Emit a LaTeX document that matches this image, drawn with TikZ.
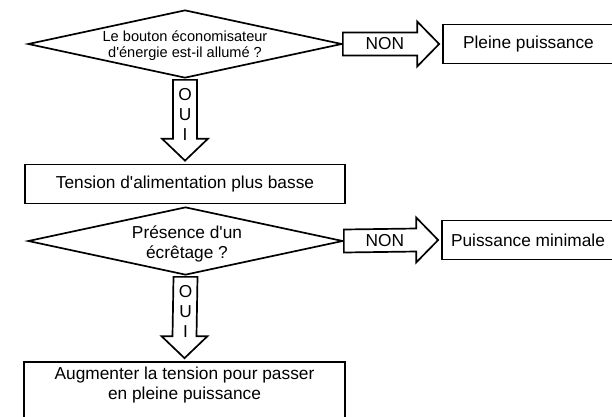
\documentclass[tikz,border=0pt]{standalone}
\usepackage{fontspec}
\setmainfont{Liberation Sans}
\usetikzlibrary{positioning,calc,shapes.geometric}
\tikzset{
  q/.style={diamond, draw, line width=1.7pt, inner sep=0pt, minimum width=314pt, minimum height=68pt},
  box/.style={rectangle, draw, line width=1.7pt, inner sep=0pt, minimum height=39pt, align=center},
  blk/.style={draw, fill=white, line width=1.7pt},
  txt/.style={font=\fontsize{17.3}{19.5}\selectfont, align=center, inner sep=0pt},
  small/.style={font=\fontsize{14.6}{16}\selectfont, align=center, inner sep=0pt},
  lbl/.style={font=\fontsize{17.3}{20}\selectfont, align=center, inner sep=0pt}
}
% block arrows between two anchors
\newcommand{\blkright}[2]{%
  \draw[blk] ($(#1)+(0,-11.5)$) -- ($(#2)+(-25,-11.5)$) -- ($(#2)+(-25,-22.5)$)
    -- ($(#2)+(-3,0)$) -- ($(#2)+(-25,22.5)$) -- ($(#2)+(-25,11.5)$)
    -- ($(#1)+(0,11.5)$) -- cycle;}
\newcommand{\blkdown}[2]{%
  \draw[blk] ($(#1)+(-12,1)$) -- ($(#2)+(-12,-25)$) -- ($(#2)+(-23,-25)$)
    -- ($(#2)+(0,-3)$) -- ($(#2)+(23,-25)$) -- ($(#2)+(12,-25)$)
    -- ($(#1)+(12,1)$) -- cycle;}
\begin{document}
\begin{tikzpicture}[x=1pt, y=-1pt]
\useasboundingbox (0,0) rectangle (612,416);
\clip (0,0) rectangle (612,416);
% steps
\node[q] (q1) at (185,44) {};
\node[small] (q1t) at ($(q1)+(0,2)$) {Le bouton économisateur\\d\textquotesingle énergie est-il allumé ?};
\node[box, txt, minimum width=171pt] (r1) at (528.5,44) {Pleine puissance};
\node[box, txt, minimum width=320pt] (b1) at (185,184) {Tension d\textquotesingle alimentation plus basse};
\node[q, minimum width=315pt] (q2) at (185.5,241) {};
\node[txt] (q2t) at ($(q2)+(1.5,3)$) {Présence d\textquotesingle un\\écrêtage ?};
\node[box, txt, minimum width=172pt] (r2) at (528,240) {Puissance minimale};
\node[box, minimum width=321pt, minimum height=68pt] (b2) at (184.5,396) {};
\node[txt] (b2t) at ($(b2.north)+(0,24)$) {Augmenter la tension pour passer\\en pleine puissance};
% arrows
\blkright{q1.east}{r1.west}
\blkdown{q1.south}{b1.north}
\blkright{q2.east}{r2.west}
\blkdown{q2.south}{b2.north}
\node[lbl] (n1) at ($(q1.east)+(42,0)$) {NON};
\node[lbl] (n2) at ($(q2.east)+(41,0)$) {NON};
\node[lbl] (o1) at ($(q1.south)+(0,36)$) {O\\U\\I};
\node[lbl] (o2) at ($(q2.south)+(0,36)$) {O\\U\\I};
\end{tikzpicture}
\end{document}
